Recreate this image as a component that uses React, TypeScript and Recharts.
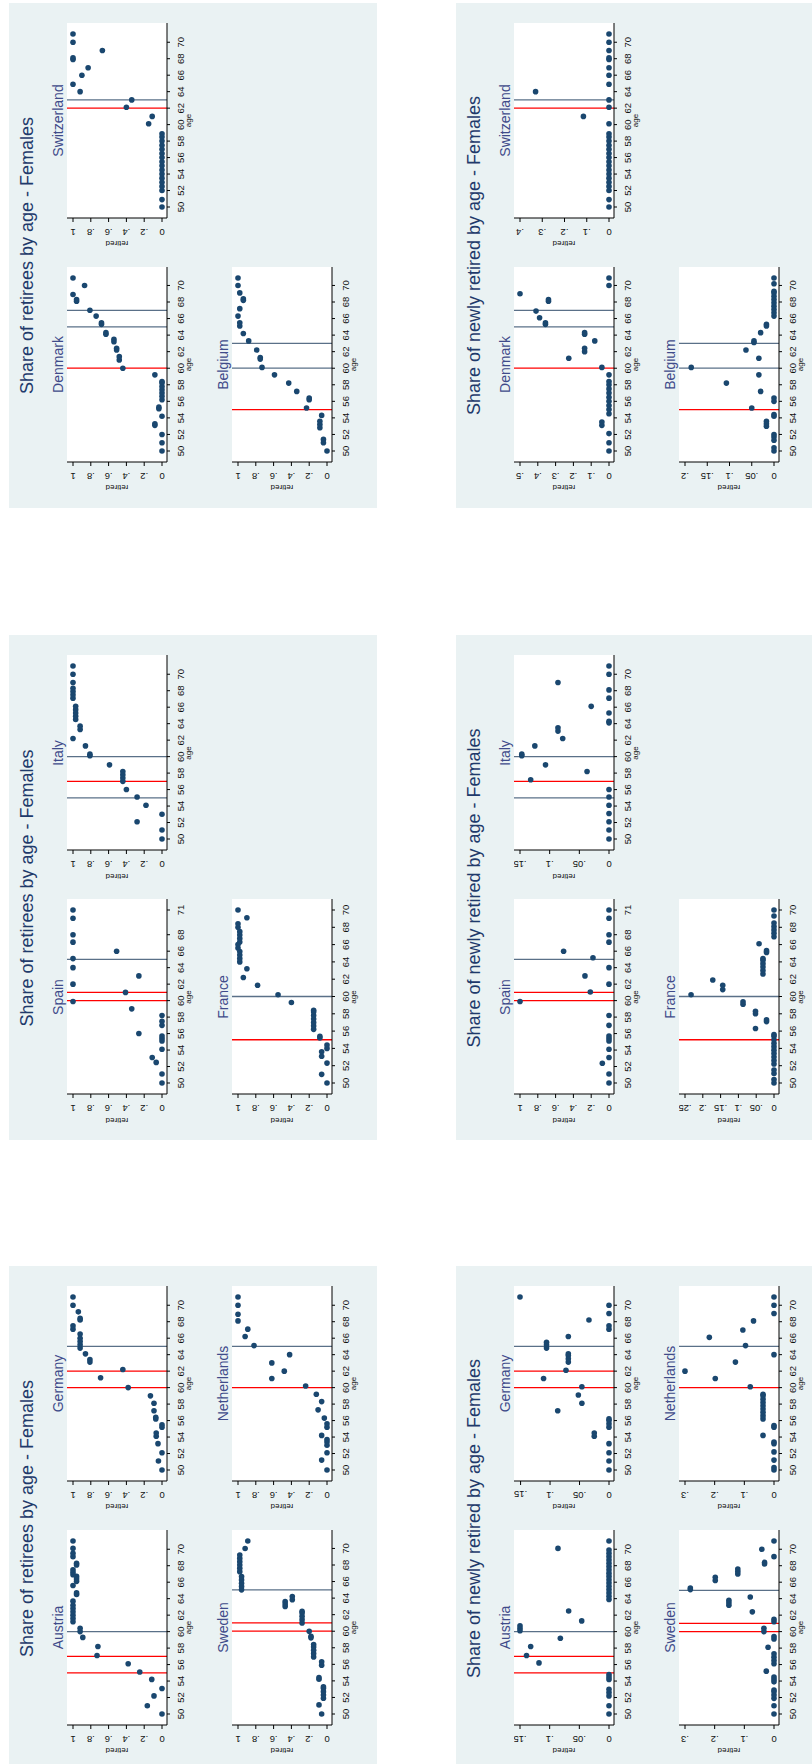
import React from 'react';
import { ScatterChart, Scatter, XAxis, YAxis, CartesianGrid, ReferenceLine } from 'recharts';

type Pt = [number, number];

// ---- tick values ----
const AGE_TICKS = [50, 52, 54, 56, 58, 60, 62, 64, 66, 68, 70];
const AGE_TICKS_SPAIN = [50, 52, 54, 56, 58, 60, 62, 64, 66, 68, 71];
const TICKS_SHARE = [0, 0.2, 0.4, 0.6, 0.8, 1];
const TICKS_TO_05 = [0, 0.1, 0.2, 0.3, 0.4, 0.5];
const TICKS_TO_04 = [0, 0.1, 0.2, 0.3, 0.4];
const TICKS_TO_03 = [0, 0.1, 0.2, 0.3];
const TICKS_TO_025 = [0, 0.05, 0.1, 0.15, 0.2, 0.25];
const TICKS_TO_02 = [0, 0.05, 0.1, 0.15, 0.2];
const TICKS_TO_015 = [0, 0.05, 0.1, 0.15];

// ---- reference lines (age, kind) ----
type Line = [number, 'early' | 'normal'];
const AUSTRIA_LINES: Line[] = [[55, 'early'], [57, 'early'], [60, 'normal']];
const GERMANY_LINES: Line[] = [[60, 'early'], [62, 'early'], [65, 'normal']];
const SWEDEN_LINES: Line[] = [[60, 'early'], [61, 'early'], [65, 'normal']];
const NETHERLANDS_LINES: Line[] = [[60, 'early'], [65, 'normal']];
const SPAIN_LINES: Line[] = [[60, 'early'], [61, 'early'], [65, 'normal']];
const ITALY_LINES: Line[] = [[55, 'normal'], [57, 'early'], [60, 'normal']];
const FRANCE_LINES: Line[] = [[55, 'early'], [60, 'normal']];
const DENMARK_LINES: Line[] = [[60, 'early'], [65, 'normal'], [67, 'normal']];
const SWITZERLAND_LINES: Line[] = [[62, 'early'], [63, 'normal']];
const BELGIUM_LINES: Line[] = [[55, 'early'], [60, 'normal'], [63, 'normal']];

// ---- share of retirees (age, share) ----
const AUSTRIA_RET: Pt[] = [[50, 0], [51, 0.165], [52.2, 0.09], [53.1, 0], [54.2, 0.115], [55.1, 0.25], [56.1, 0.38], [57.1, 0.73], [58.2, 0.72], [59.3, 0.89], [60, 0.92], [60.4, 0.92], [61.2, 1], [61.6, 1], [62, 1], [62.4, 1], [62.8, 1], [63.2, 1], [63.7, 1], [64.5, 0.96], [64.7, 0.96], [65.6, 1], [66.1, 0.96], [66.4, 0.96], [66.7, 0.96], [66.9, 1], [67.2, 1], [67.5, 1], [68.1, 0.96], [68.3, 0.96], [69.1, 1], [69.5, 1], [70.1, 1], [71, 1]];
const GERMANY_RET: Pt[] = [[50, 0], [51.1, 0.04], [52.1, 0], [53.2, 0.045], [54.1, 0.065], [54.5, 0.065], [55.2, 0], [55.5, 0], [56.2, 0.07], [56.4, 0.07], [57.2, 0.09], [58.1, 0.09], [59, 0.13], [60, 0.38], [61.2, 0.69], [62.2, 0.44], [63.1, 0.81], [63.4, 0.81], [64.1, 0.86], [64.8, 0.92], [65.2, 0.92], [65.6, 0.92], [66, 0.92], [66.5, 0.92], [67.1, 1], [67.5, 1], [68.2, 0.92], [68.4, 0.92], [69.2, 0.94], [70, 1], [71, 1]];
const SWEDEN_RET: Pt[] = [[50, 0.06], [51.1, 0.09], [51.9, 0.04], [52.3, 0.04], [52.7, 0.04], [53.1, 0.04], [53.3, 0.04], [54.2, 0.09], [54.4, 0.09], [55.9, 0.06], [56.3, 0.06], [56.9, 0.15], [57.3, 0.15], [57.7, 0.15], [58.1, 0.15], [58.4, 0.15], [59.2, 0.18], [59.4, 0.18], [60, 0.2], [61, 0.28], [61.4, 0.28], [61.8, 0.28], [62.2, 0.28], [62.4, 0.28], [63, 0.47], [63.3, 0.47], [63.6, 0.47], [63.8, 0.39], [64.2, 0.39], [65, 0.96], [65.4, 0.96], [65.8, 0.96], [66.2, 0.96], [66.6, 0.96], [67.2, 0.98], [67.6, 0.98], [68, 0.98], [68.4, 0.98], [68.8, 0.98], [69.2, 0.98], [70, 0.92], [70.9, 0.89]];
const NETHERLANDS_RET: Pt[] = [[50, 0], [51.2, 0.06], [52.1, 0], [53, 0], [53.4, 0], [53.7, 0], [54.2, 0.06], [55.2, 0], [55.6, 0], [56.3, 0.03], [57.3, 0.1], [58.3, 0.06], [59.2, 0.12], [60.2, 0.24], [61.1, 0.62], [62, 0.48], [63, 0.62], [64, 0.42], [65.1, 0.82], [66.2, 0.92], [67.1, 0.89], [68.1, 1], [68.9, 1], [70, 1], [71, 1]];
const SPAIN_RET: Pt[] = [[50, 0], [51.1, 0], [52.5, 0.065], [53.1, 0.11], [54.1, 0], [55.1, 0], [55.4, 0], [55.7, 0], [56, 0.26], [57, 0], [57.5, 0], [58.2, 0], [59, 0.34], [59.9, 1], [61, 0.41], [62, 1], [63, 0.26], [64, 1], [65.1, 1], [66, 0.51], [67.1, 1], [68, 1], [70, 1], [71, 1]];
const ITALY_RET: Pt[] = [[50, 0], [51.1, 0], [52.1, 0.28], [53, 0], [54.1, 0.18], [55.1, 0.28], [56, 0.4], [57, 0.44], [57.4, 0.44], [57.8, 0.44], [58.2, 0.44], [59, 0.59], [60.1, 0.81], [60.3, 0.81], [61.3, 0.86], [62.2, 1], [63.3, 0.92], [63.7, 0.92], [64.5, 0.97], [64.9, 0.97], [65.3, 0.97], [65.7, 0.97], [66.1, 0.97], [67.1, 1], [67.5, 1], [67.9, 1], [68.3, 1], [69, 1], [70, 1], [71, 1]];
const FRANCE_RET: Pt[] = [[50, 0], [51, 0.06], [52.3, 0], [53.1, 0.06], [53.6, 0.06], [54, 0], [54.4, 0], [55.2, 0.08], [55.4, 0.08], [56.2, 0.15], [56.6, 0.15], [57, 0.15], [57.4, 0.15], [57.8, 0.15], [58.2, 0.15], [58.4, 0.15], [59.3, 0.4], [60.2, 0.55], [61.3, 0.78], [62.2, 0.94], [63.2, 0.9], [64, 0.98], [64.4, 0.98], [64.8, 0.98], [65.2, 0.98], [65.6, 1], [66, 1], [66.3, 0.98], [66.7, 0.98], [67.1, 0.98], [67.5, 0.98], [68, 1], [68.4, 1], [69.1, 0.9], [70, 1]];
const DENMARK_RET: Pt[] = [[50, 0], [51, 0], [52, 0], [53.1, 0.08], [53.3, 0.08], [54.2, 0], [55.1, 0.035], [55.3, 0.035], [56.2, 0], [56.6, 0], [57, 0], [57.4, 0], [57.8, 0], [58.2, 0], [58.4, 0], [59.2, 0.08], [60, 0.44], [61, 0.48], [61.4, 0.48], [62.2, 0.51], [62.4, 0.51], [63.2, 0.54], [63.5, 0.54], [64.1, 0.63], [64.3, 0.63], [65.3, 0.68], [65.5, 0.68], [66.3, 0.74], [67, 0.81], [68.1, 0.96], [68.3, 0.96], [68.9, 1], [70, 0.87], [70.9, 1]];
const SWITZERLAND_RET: Pt[] = [[50, 0], [50.9, 0], [52, 0], [52.5, 0], [53, 0], [53.5, 0], [54, 0], [54.5, 0], [55, 0], [55.5, 0], [56, 0], [56.5, 0], [57, 0], [57.5, 0], [58, 0], [58.5, 0], [58.9, 0], [60.1, 0.15], [61, 0.11], [62.1, 0.4], [63, 0.34], [64, 0.92], [64.9, 1], [66, 0.9], [66.9, 0.83], [67.9, 1], [68.1, 1], [69, 0.67], [70, 1], [71, 1]];
const BELGIUM_RET: Pt[] = [[50, 0], [51, 0.04], [51.4, 0.04], [52.8, 0.08], [53.2, 0.08], [53.6, 0.08], [54.3, 0.06], [55.2, 0.23], [56.2, 0.2], [56.4, 0.2], [57.2, 0.34], [58.2, 0.43], [59.2, 0.59], [60.1, 0.73], [61.1, 0.75], [61.3, 0.75], [62.2, 0.79], [63.3, 0.88], [64.2, 0.94], [65.1, 0.98], [65.5, 0.98], [66.3, 1], [67.2, 0.98], [68.2, 0.94], [68.4, 0.94], [69.1, 0.98], [70, 1], [70.9, 1]];

// ---- share of newly retired (age, share) ----
const AUSTRIA_NEW: Pt[] = [[50, 0], [51, 0], [52.2, 0], [52.6, 0], [53, 0], [54.2, 0], [54.5, 0], [54.8, 0], [56.2, 0.118], [57.1, 0.139], [58.2, 0.132], [59.2, 0.082], [60.1, 0.15], [60.4, 0.15], [60.7, 0.15], [61.3, 0.046], [62.5, 0.068], [63.9, 0], [64.3, 0], [64.7, 0], [65.1, 0], [65.5, 0], [65.9, 0], [66.3, 0], [66.7, 0], [67.1, 0], [67.5, 0], [67.9, 0], [68.3, 0], [68.7, 0], [69.1, 0], [69.5, 0], [69.9, 0], [70.1, 0.086], [71, 0]];
const GERMANY_NEW: Pt[] = [[50, 0], [51.1, 0], [52.1, 0], [53.2, 0], [54.1, 0.025], [54.5, 0.025], [55.2, 0], [55.6, 0], [56, 0], [56.2, 0], [57.2, 0.087], [58.1, 0.046], [59.1, 0.052], [60.1, 0.046], [61.1, 0.111], [62.1, 0.073], [63.1, 0.069], [63.5, 0.069], [63.9, 0.069], [64.1, 0.069], [64.8, 0.106], [65.2, 0.106], [65.5, 0.106], [66.2, 0.069], [67.1, 0], [67.5, 0], [68.2, 0.034], [69, 0], [70, 0], [71, 0.151]];
const SWEDEN_NEW: Pt[] = [[50, 0], [51, 0], [51.9, 0], [52.3, 0], [52.7, 0], [52.9, 0], [53.9, 0], [54.2, 0], [54.5, 0], [55.2, 0.026], [56.1, 0], [56.5, 0], [56.9, 0], [57.3, 0], [58.1, 0.02], [59.1, 0], [59.4, 0], [60, 0.034], [60.4, 0.034], [61.2, 0], [61.5, 0], [62.4, 0.073], [63.2, 0.152], [63.5, 0.152], [63.8, 0.152], [64.2, 0.08], [65.1, 0.282], [65.3, 0.282], [66.2, 0.198], [66.6, 0.198], [67, 0.122], [67.3, 0.122], [67.6, 0.122], [68.2, 0.032], [68.4, 0.032], [69.1, 0], [70, 0.041], [71, 0]];
const NETHERLANDS_NEW: Pt[] = [[50, 0], [50.3, 0], [51.2, 0], [52.2, 0], [53.2, 0], [53.4, 0], [54.2, 0.037], [55.2, 0], [55.4, 0], [56.2, 0.037], [56.6, 0.037], [57, 0.037], [57.4, 0.037], [57.8, 0.037], [58.2, 0.037], [58.6, 0.037], [59, 0.037], [59.2, 0.037], [60.1, 0.08], [61.1, 0.198], [62, 0.3], [63.1, 0.13], [64, 0], [65.1, 0.096], [66.1, 0.218], [67, 0.105], [68.1, 0.069], [69, 0], [70, 0], [71, 0]];
const SPAIN_NEW: Pt[] = [[50, 0], [51.1, 0], [52.4, 0.075], [53.1, 0], [54.1, 0], [55.1, 0], [55.4, 0], [55.7, 0], [57, 0], [58.2, 0], [59.9, 1], [61.05, 0.21], [62, 0], [63, 0.27], [64, 0], [65.2, 0.18], [66, 0.51], [67.1, 0], [68, 0], [70, 0], [71, 0]];
const ITALY_NEW: Pt[] = [[50, 0], [51.1, 0], [52.1, 0], [53.1, 0], [54.1, 0], [55.1, 0], [56, 0], [57.2, 0.132], [58.2, 0.037], [59, 0.107], [60.1, 0.147], [60.3, 0.147], [61.3, 0.125], [62.2, 0.078], [63.1, 0.086], [63.5, 0.086], [64.1, 0], [64.3, 0], [65.3, 0], [66.1, 0.03], [67.1, 0], [68.1, 0], [69, 0.086], [70, 0], [71, 0]];
const FRANCE_NEW: Pt[] = [[50, 0], [50.4, 0], [51.1, 0], [51.5, 0], [52.2, 0], [52.6, 0], [53, 0], [53.4, 0], [53.8, 0], [54.2, 0], [54.6, 0], [55, 0], [55.4, 0], [55.6, 0], [56.3, 0.052], [57.1, 0.021], [57.3, 0.021], [58, 0.052], [58.3, 0.052], [59.1, 0.087], [59.4, 0.087], [60.2, 0.233], [60.8, 0.144], [61.3, 0.144], [61.9, 0.172], [62.6, 0.031], [63, 0.031], [63.4, 0.031], [63.8, 0.031], [64.2, 0.031], [64.4, 0.031], [65.1, 0.021], [65.3, 0.021], [66.1, 0.042], [66.9, 0], [67.3, 0], [67.7, 0], [68.1, 0], [68.5, 0], [69.3, 0], [70, 0]];
const DENMARK_NEW: Pt[] = [[50, 0], [51, 0], [52.1, 0], [53.1, 0.04], [53.5, 0.04], [54.5, 0], [55, 0], [55.5, 0], [56, 0], [56.5, 0], [57, 0], [57.5, 0], [58, 0], [58.4, 0], [59.2, 0], [60.1, 0.04], [61.2, 0.226], [62, 0.137], [62.4, 0.137], [63.3, 0.08], [64.1, 0.137], [64.3, 0.137], [65.3, 0.357], [65.5, 0.357], [66.1, 0.39], [66.9, 0.41], [68.1, 0.34], [68.3, 0.34], [69, 0.5], [70, 0], [70.9, 0]];
const SWITZERLAND_NEW: Pt[] = [[50, 0], [50.9, 0], [52, 0], [52.5, 0], [53, 0], [53.5, 0], [54, 0], [54.5, 0], [55, 0], [55.5, 0], [56, 0], [56.5, 0], [57, 0], [57.5, 0], [58, 0], [58.5, 0], [58.9, 0], [60.1, 0], [61, 0.115], [62.1, 0], [63, 0], [64, 0.33], [64.9, 0], [66, 0], [66.9, 0], [67.9, 0], [68.1, 0], [69, 0], [70, 0], [71, 0]];
const BELGIUM_NEW: Pt[] = [[50, 0], [50.4, 0], [51.3, 0], [51.7, 0], [52, 0], [53, 0.017], [53.3, 0.017], [53.6, 0.017], [54.2, 0], [54.4, 0], [55.2, 0.05], [56, 0], [56.4, 0], [57.2, 0.03], [58.2, 0.107], [59.2, 0.034], [60.1, 0.186], [61.2, 0.034], [62.2, 0.063], [63.1, 0.045], [63.3, 0.045], [64.3, 0.03], [65.1, 0.017], [65.3, 0.017], [66.3, 0], [66.7, 0], [67.1, 0], [67.5, 0], [67.9, 0], [68.3, 0], [68.7, 0], [69.1, 0], [69.3, 0], [70.2, 0], [70.9, 0]];

const TITLE_RET = 'Share of retirees by age - Females';
const TITLE_NEW = 'Share of newly retired by age - Females';

// panel index 0..2 (left to right), slot 0..3 (row1 col1, row1 col2, row2 col1, row2 col2)
const COUNTRIES = [
  { name: 'Austria', panel: 0, slot: 0, ret: AUSTRIA_RET, newly: AUSTRIA_NEW, lines: AUSTRIA_LINES, ages: AGE_TICKS, newTicks: TICKS_TO_015 },
  { name: 'Germany', panel: 0, slot: 1, ret: GERMANY_RET, newly: GERMANY_NEW, lines: GERMANY_LINES, ages: AGE_TICKS, newTicks: TICKS_TO_015 },
  { name: 'Sweden', panel: 0, slot: 2, ret: SWEDEN_RET, newly: SWEDEN_NEW, lines: SWEDEN_LINES, ages: AGE_TICKS, newTicks: TICKS_TO_03 },
  { name: 'Netherlands', panel: 0, slot: 3, ret: NETHERLANDS_RET, newly: NETHERLANDS_NEW, lines: NETHERLANDS_LINES, ages: AGE_TICKS, newTicks: TICKS_TO_03 },
  { name: 'Spain', panel: 1, slot: 0, ret: SPAIN_RET, newly: SPAIN_NEW, lines: SPAIN_LINES, ages: AGE_TICKS_SPAIN, newTicks: TICKS_SHARE },
  { name: 'Italy', panel: 1, slot: 1, ret: ITALY_RET, newly: ITALY_NEW, lines: ITALY_LINES, ages: AGE_TICKS, newTicks: TICKS_TO_015 },
  { name: 'France', panel: 1, slot: 2, ret: FRANCE_RET, newly: FRANCE_NEW, lines: FRANCE_LINES, ages: AGE_TICKS, newTicks: TICKS_TO_025 },
  { name: 'Denmark', panel: 2, slot: 0, ret: DENMARK_RET, newly: DENMARK_NEW, lines: DENMARK_LINES, ages: AGE_TICKS, newTicks: TICKS_TO_05 },
  { name: 'Switzerland', panel: 2, slot: 1, ret: SWITZERLAND_RET, newly: SWITZERLAND_NEW, lines: SWITZERLAND_LINES, ages: AGE_TICKS, newTicks: TICKS_TO_04 },
  { name: 'Belgium', panel: 2, slot: 2, ret: BELGIUM_RET, newly: BELGIUM_NEW, lines: BELGIUM_LINES, ages: AGE_TICKS, newTicks: TICKS_TO_02 },
];

// ---- layout (unrotated page: 1764 x 812, then turned a quarter left) ----
const FONT = '"Liberation Sans", Arial, Helvetica, sans-serif';
const NAVY = '#1a476f';
const PANEL_BG = '#eaf2f3';
const RED = '#ff0000';
const GREY = '#5a7088';
const PANEL_W = 505;
const PANEL_H = 368;
const PANEL_LEFT = [-7, 623.5, 1256];
const PANEL_TOP = [9, 456];
const SLOT_X = [46, 290];
const SLOT_Y = [58, 223];
const PLOT_W = 195;
const PLOT_H = 100;
const AXIS_W = 46;
const AXIS_H = 30;

const fmt = (v: number) => (v === 0 ? '0' : String(v).replace(/^0\./, '.'));

function AgeTick(props: any) {
  return (
    <text x={props.x} y={116.5} textAnchor="middle" fontSize={9.5} fontFamily={FONT} fill="#111">
      {props.payload.value}
    </text>
  );
}

function ShareTick(props: any) {
  const y = props.y;
  return (
    <text x={35.5} y={y} transform={`rotate(-90 35.5 ${y})`} textAnchor="middle" fontSize={9.5} fontFamily={FONT} fill="#111">
      {fmt(props.payload.value)}
    </text>
  );
}

const Dot = (props: any) => <circle cx={props.cx} cy={props.cy} r={2.8} fill={NAVY} />;

function Subplot({ c, data, ticks, left, top }: any) {
  const rows = (data as Pt[]).map(([age, v]) => ({ age, v }));
  const yTop = Math.max(ticks[ticks.length - 1], ...rows.map((r) => r.v));
  return (
    <div style={{ position: 'absolute', left: left - AXIS_W, top, width: AXIS_W + PLOT_W + 5, height: PLOT_H + AXIS_H }}>
      <ScatterChart width={AXIS_W + PLOT_W + 5} height={PLOT_H + AXIS_H} margin={{ top: 0, right: 5, bottom: 0, left: 0 }}>
        <CartesianGrid fill="#ffffff" stroke="none" horizontal={false} vertical={false} />
        <XAxis
          type="number"
          dataKey="age"
          domain={['dataMin', 'dataMax']}
          ticks={c.ages}
          interval={0}
          padding={{ left: 11, right: 11 }}
          height={AXIS_H}
          tickSize={3}
          axisLine={{ stroke: '#000' }}
          tickLine={{ stroke: '#000' }}
          tick={AgeTick}
        />
        <YAxis
          type="number"
          dataKey="v"
          domain={[0, yTop]}
          ticks={ticks}
          interval={0}
          padding={{ top: 6, bottom: 5 }}
          width={AXIS_W}
          tickSize={4}
          axisLine={{ stroke: '#000' }}
          tickLine={{ stroke: '#000' }}
          tick={ShareTick}
        />
        {c.lines.map(([age, kind]: Line) => (
          <ReferenceLine key={age} x={age} stroke={kind === 'early' ? RED : GREY} strokeWidth={1.3} />
        ))}
        <Scatter data={rows} shape={Dot} isAnimationActive={false} />
      </ScatterChart>
      <div style={{ position: 'absolute', left: -9.5, top: 45, width: 60, height: 10, lineHeight: '10px', fontSize: 8, textAlign: 'center', transform: 'rotate(-90deg)', color: '#111' }}>
        retired
      </div>
      <div style={{ position: 'absolute', left: AXIS_W + PLOT_W / 2 - 20, top: 116.5, width: 40, height: 10, lineHeight: '10px', fontSize: 8, textAlign: 'center', color: '#111' }}>
        age
      </div>
    </div>
  );
}

function Panel({ col, row }: { col: number; row: number }) {
  const list = COUNTRIES.filter((c) => c.panel === col);
  return (
    <div style={{ position: 'absolute', left: PANEL_LEFT[col], top: PANEL_TOP[row], width: PANEL_W, height: PANEL_H, background: PANEL_BG }}>
      <div style={{ position: 'absolute', left: 0, top: 7.7, width: PANEL_W, height: 20, lineHeight: '20px', fontSize: 18, textAlign: 'center', color: '#1f3a6b', whiteSpace: 'nowrap' }}>
        {row === 0 ? TITLE_RET : TITLE_NEW}
      </div>
      {list.map((c) => {
        const px = SLOT_X[c.slot % 2];
        const py = SLOT_Y[Math.floor(c.slot / 2)];
        return (
          <React.Fragment key={c.name}>
            <div style={{ position: 'absolute', left: px + PLOT_W / 2 - 60, top: py - 17.5, width: 120, height: 16, lineHeight: '16px', fontSize: 14, textAlign: 'center', color: '#3f4b8a', whiteSpace: 'nowrap' }}>
              {c.name}
            </div>
            <Subplot c={c} data={row === 0 ? c.ret : c.newly} ticks={row === 0 ? TICKS_SHARE : c.newTicks} left={px} top={py} />
          </React.Fragment>
        );
      })}
    </div>
  );
}

export default function App() {
  return (
    <div style={{ position: 'absolute', left: 0, top: 0, width: 812, height: 1764, overflow: 'hidden', background: '#fff', fontFamily: FONT }}>
      <div style={{ position: 'absolute', left: 0, top: 0, width: 1764, height: 812, transformOrigin: '0 0', transform: 'translate(0px, 1764px) rotate(-90deg)' }}>
        {[0, 1].map((row) => [0, 1, 2].map((col) => <Panel key={`${row}-${col}`} col={col} row={row} />))}
      </div>
    </div>
  );
}
